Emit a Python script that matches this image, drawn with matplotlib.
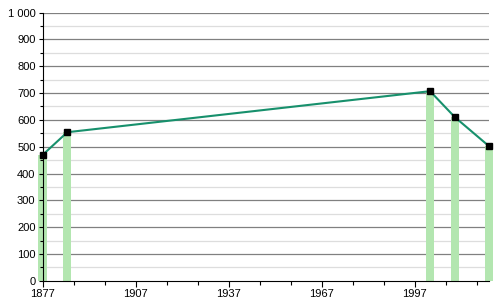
import matplotlib
matplotlib.use("Agg")
import matplotlib.pyplot as plt
from matplotlib.ticker import MultipleLocator, FuncFormatter

years = [1877, 1885, 2002, 2010, 2021]
population = [469, 554, 707, 610, 502]

plt.rcParams['font.family'] = ['Liberation Sans', 'DejaVu Sans']

fig = plt.figure(figsize=(5, 3), dpi=100)
ax = fig.add_axes([0.085, 0.064, 0.893, 0.894])

# grid lines: dark every 100, light every 50
for v in range(50, 1001, 50):
    if v % 100 == 0:
        ax.axhline(v, color="#808080", lw=0.9, zorder=0)
    else:
        ax.axhline(v, color="#dddddd", lw=0.9, zorder=0)

bars = ax.bar(years, population, width=2.6, color="#b3e6b0", zorder=1)
for b in bars:
    b.set_clip_on(False)
ax.plot(years, population, color="#17906c", lw=1.5, zorder=2, clip_on=False)
ax.plot(years, population, "s", color="black", ms=4, zorder=3, clip_on=False)

ax.set_xlim(1877, 2021)
ax.set_ylim(0, 1000)
ax.set_xticks(range(1877, 2021, 30))
ax.set_xticks(range(1877, 2021, 10), minor=True)
ax.yaxis.set_major_locator(MultipleLocator(100))
ax.yaxis.set_minor_locator(MultipleLocator(50))
ax.yaxis.set_major_formatter(FuncFormatter(lambda v, p: "{:,}".format(int(v)).replace(",", " ")))

for s in ["top", "right"]:
    ax.spines[s].set_visible(False)
ax.spines["left"].set_zorder(4)
ax.spines["bottom"].set_zorder(4)
ax.tick_params(axis="both", which="both", length=3, width=0.8, labelsize=8, pad=2)
ax.tick_params(axis="y", which="minor", length=2)
ax.tick_params(axis="x", which="major", length=4)

fig.savefig("out.png", dpi=100)
